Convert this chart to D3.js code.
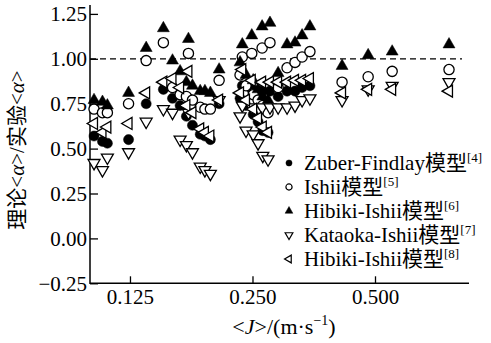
<!DOCTYPE html>
<html>
<head>
<meta charset="utf-8">
<script src="https://cdn.jsdelivr.net/npm/d3@7"></script>
<style>
body { margin: 0; background: #fff; }
svg { display: block; }
svg text { font-family: "Liberation Serif", "Times New Roman", "Noto Sans CJK SC", serif; fill: #000; }
</style>
</head>
<body>
<svg id="chart" width="491" height="343"></svg>
<script>
// superficial velocity <J> of every measured point, m/s
const jValues = [0.102, 0.107, 0.110, 0.124, 0.137, 0.151, 0.159, 0.166, 0.172, 0.178, 0.186, 0.191, 0.197, 0.174, 0.207,
	0.236, 0.249, 0.264, 0.276, 0.233, 0.241, 0.251, 0.258, 0.265, 0.273, 0.289, 0.304, 0.318, 0.331, 0.346,
	0.415, 0.481, 0.551, 0.760]
// theory / experiment ratio per model
const zuberFindlay = [0.57, 0.54, 0.53, 0.55, 0.75, 0.83, 0.78, 0.74, 0.68, 0.63, 0.58, 0.57, 0.55, 0.78, 0.75,
	0.85, 0.83, 0.82, 0.82, 0.78, 0.74, 0.69, 0.65, 0.60, 0.59, 0.79, 0.82, 0.82, 0.84, 0.85,
	null, null, null, null]
const ishii = [0.72, 0.70, 0.70, 0.75, 0.99, 1.09, 0.84, 0.80, 0.79, 0.77, 0.73, 0.72, 0.72, 1.03, 0.88,
	1.01, 1.03, 1.06, 1.09, 0.91, 0.85, 0.80, 0.77, 0.74, 0.70, 0.84, 0.95, 0.98, 1.01, 1.04,
	0.87, 0.90, 0.93, 0.94]
const hibikiIshii6 = [0.77, 0.76, 0.74, 0.81, 1.06, 1.17, 0.99, 0.93, 0.87, 0.85, 0.82, 0.82, 0.81, 1.11, 0.94,
	1.08, 1.13, 1.18, 1.20, 0.98, 0.91, 0.88, 0.83, 0.79, 0.77, 0.92, 1.08, 1.09, 1.13, 1.18,
	0.96, 1.02, 1.04, 1.08]
const kataokaIshii = [0.42, 0.38, 0.45, 0.48, 0.65, 0.72, 0.70, 0.55, 0.52, 0.48, 0.40, 0.38, 0.36, 0.70, 0.77,
	0.74, 0.73, 0.73, 0.73, 0.68, 0.60, 0.58, 0.53, 0.46, 0.44, 0.73, 0.73, 0.74, 0.77, 0.78,
	0.77, 0.83, 0.85, 0.87]
const hibikiIshii8 = [0.64, 0.59, 0.62, 0.64, 0.81, 0.87, 0.89, 0.84, 0.74, 0.70, 0.61, 0.59, 0.57, 0.93, 0.77,
	0.94, 0.88, 0.87, 0.87, 0.81, 0.77, 0.72, 0.67, 0.62, 0.59, 0.87, 0.87, 0.88, 0.88, 0.89,
	0.81, 0.83, 0.83, 0.82]

const xTicks = [0.125, 0.25, 0.5]
const yTicks = [-0.25, 0, 0.25, 0.5, 0.75, 1.0, 1.25]
const legendNames = ["Zuber-Findlay模型", "Ishii模型", "Hibiki-Ishii模型", "Kataoka-Ishii模型", "Hibiki-Ishii模型"]
const legendRefs = ["[4]", "[5]", "[6]", "[7]", "[8]"]

const svg = d3.select("#chart")
const x = d3.scaleLog().base(2).domain([0.0997, 0.851]).range([90, 469])
const y = d3.scaleLinear().domain([-0.25, 1.25]).range([283.3, 13.9])

// marker styles: symbol, rotation, filled?
const series = [
	{values: zuberFindlay, type: d3.symbolCircle, size: 80, rot: 0, filled: true},
	{values: ishii, type: d3.symbolCircle, size: 82, rot: 0, filled: false},
	{values: hibikiIshii6, type: d3.symbolTriangle, size: 62, rot: 0, filled: true},
	{values: kataokaIshii, type: d3.symbolTriangle, size: 62, rot: 180, filled: false},
	{values: hibikiIshii8, type: d3.symbolTriangle, size: 62, rot: -90, filled: false},
]

// axes
const yAxis = svg.append("g")
	.attr("transform", "translate(90,0)")
	.call(d3.axisLeft(y).tickValues(yTicks).tickFormat(d3.format(".2f")).tickSizeInner(-8).tickSizeOuter(0).tickPadding(3))
yAxis.attr("font-family", null).attr("font-size", null)
yAxis.select(".domain").remove()
yAxis.selectAll(".tick line").attr("stroke", "#000").attr("stroke-width", 1.3)
yAxis.selectAll(".tick text").attr("font-size", 21)

const xAxis = svg.append("g")
	.attr("transform", "translate(0,283.3)")
	.call(d3.axisBottom(x).tickValues(xTicks).tickFormat(d3.format(".3f")).tickSizeInner(-7).tickSizeOuter(0).tickPadding(6))
xAxis.attr("font-family", null).attr("font-size", null)
xAxis.select(".domain").remove()
xAxis.selectAll(".tick line").attr("stroke", "#000").attr("stroke-width", 1.3)
xAxis.selectAll(".tick text").attr("font-size", 21)

svg.append("path")
	.attr("d", `M90,5V${y(-0.25)}H469`)
	.attr("fill", "none")
	.attr("stroke", "#000")
	.attr("stroke-width", 1.5)

// reference line at ratio 1
svg.append("line")
	.attr("x1", 90).attr("x2", 462)
	.attr("y1", y(1)).attr("y2", y(1))
	.attr("stroke", "#000")
	.attr("stroke-width", 1.2)
	.attr("stroke-dasharray", "6,4")

// points
series.forEach(s => {
	const pts = jValues.map((j, i) => ({j: j, v: s.values[i]})).filter(d => d.v != null)
	svg.append("g").selectAll("path")
		.data(pts)
		.join("path")
		.attr("transform", d => `translate(${x(d.j)},${y(d.v)}) rotate(${s.rot})`)
		.attr("d", d3.symbol().type(s.type).size(s.size))
		.attr("fill", s.filled ? "#000" : "#fff")
		.attr("stroke", "#000")
		.attr("stroke-width", s.filled ? 0.5 : 1.3)
})

// legend
const legend = svg.append("g").attr("transform", "translate(289,163)")
series.forEach((s, i) => {
	const row = legend.append("g").attr("transform", `translate(0,${i * 24})`)
	row.append("path")
		.attr("transform", `rotate(${s.rot})`)
		.attr("d", d3.symbol().type(s.type).size(s.type === d3.symbolCircle ? 30 : 26))
		.attr("fill", s.filled ? "#000" : "#fff")
		.attr("stroke", "#000")
		.attr("stroke-width", s.filled ? 0.5 : 1.2)
	const t = row.append("text").attr("x", 15).attr("y", 7).attr("font-size", 21)
	t.append("tspan").text(legendNames[i])
	t.append("tspan").attr("font-size", 13).attr("dy", -8).text(legendRefs[i])
})

// axis titles
const yTitle = svg.append("text")
	.attr("transform", "translate(24,150) rotate(-90)")
	.attr("text-anchor", "middle")
	.attr("font-size", 21)
yTitle.append("tspan").text("理论<")
yTitle.append("tspan").attr("font-style", "italic").text("α")
yTitle.append("tspan").text(">/实验<")
yTitle.append("tspan").attr("font-style", "italic").text("α")
yTitle.append("tspan").text(">")

const xTitle = svg.append("text")
	.attr("x", 284).attr("y", 334)
	.attr("text-anchor", "middle")
	.attr("font-size", 22)
xTitle.append("tspan").text("<")
xTitle.append("tspan").attr("font-style", "italic").text("J")
xTitle.append("tspan").text(">/(m·s")
xTitle.append("tspan").attr("font-size", 14).attr("dy", -9).text("−1")
xTitle.append("tspan").attr("dy", 9).text(")")
</script>
</body>
</html>
